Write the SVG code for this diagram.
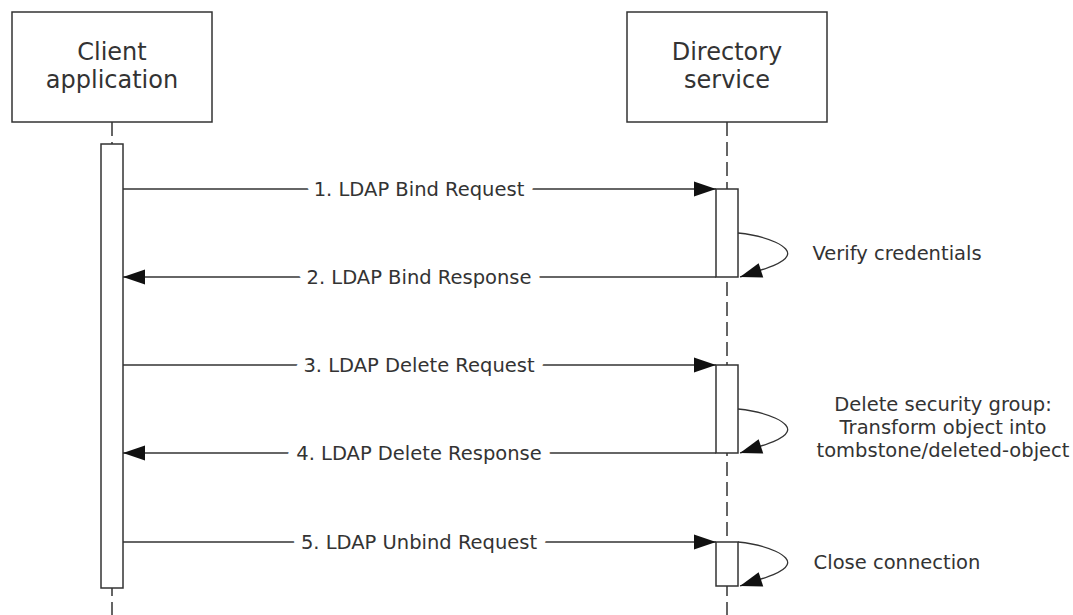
<svg xmlns="http://www.w3.org/2000/svg" width="1073" height="615" viewBox="0 0 1073 615">
<style>
.box{fill:#fff;stroke:#333;stroke-width:1.5}
.act{fill:#fff;stroke:#333;stroke-width:1.5}
.life{stroke:#333;stroke-width:1.5;stroke-dasharray:14 6;fill:none}
.msg{stroke:#333;stroke-width:1.5;fill:none;marker-end:url(#ah)}
.loop{stroke:#333;stroke-width:1.3;fill:none;marker-end:url(#ah)}
.t{font-family:"DejaVu Sans",Verdana,sans-serif;fill:#333}
.title{font-size:24px;text-anchor:middle}
.lbl{font-size:19.5px;text-anchor:middle;paint-order:stroke;stroke:#fff;stroke-width:18;stroke-linejoin:round}
.note{font-size:19.5px;text-anchor:middle}
</style>
<defs>
<marker id="ah" markerUnits="userSpaceOnUse" markerWidth="24" markerHeight="16" refX="22" refY="7.5" orient="auto" overflow="visible">
<path d="M0,0 L22,7.5 L0,15 Z" fill="#111"/>
</marker>
</defs>
<rect width="1073" height="615" fill="#fff"/>
<g id="client">
<rect class="box" x="12" y="12" width="200" height="110"/>
<text class="t title" x="112" y="60">Client</text>
<text class="t title" x="112" y="88">application</text>
<line class="life" x1="112" y1="122" x2="112" y2="615"/>
<rect class="act" x="101" y="144" width="22" height="444"/>
</g>
<g id="directory">
<rect class="box" x="627" y="12" width="200" height="110"/>
<text class="t title" x="727" y="60">Directory</text>
<text class="t title" x="727" y="88">service</text>
<line class="life" x1="727" y1="122" x2="727" y2="615"/>
<rect class="act" x="716" y="189" width="22" height="88"/>
<rect class="act" x="716" y="365" width="22" height="88"/>
<rect class="act" x="716" y="542" width="22" height="44"/>
</g>
<g id="connectors">
<line class="msg" x1="123" y1="189" x2="716" y2="189"/>
<line class="msg" x1="716" y1="277" x2="123" y2="277"/>
<line class="msg" x1="123" y1="365" x2="716" y2="365"/>
<line class="msg" x1="716" y1="453" x2="123" y2="453"/>
<line class="msg" x1="123" y1="542" x2="716" y2="542"/>
<path class="loop" d="M738,233 C768,236 792,247 787,256 C784,263 768,268 740,277"/>
<path class="loop" d="M738,409 C768,412 792,423 787,432 C784,439 768,444 740,453"/>
<path class="loop" d="M738,542 C768,545 792,556 787,565 C784,572 768,577 740,586"/>
</g>
<g id="labels">
<text class="t lbl" x="419" y="196">1. LDAP Bind Request</text>
<text class="t lbl" x="419" y="284">2. LDAP Bind Response</text>
<text class="t lbl" x="419" y="372">3. LDAP Delete Request</text>
<text class="t lbl" x="419" y="460">4. LDAP Delete Response</text>
<text class="t lbl" x="419" y="549">5. LDAP Unbind Request</text>
<text class="t note" x="897" y="260">Verify credentials</text>
<text class="t note" x="943" y="411">Delete security group:</text>
<text class="t note" x="943" y="434">Transform object into</text>
<text class="t note" x="943" y="457">tombstone/deleted-object</text>
<text class="t note" x="897" y="569">Close connection</text>
</g>
</svg>
